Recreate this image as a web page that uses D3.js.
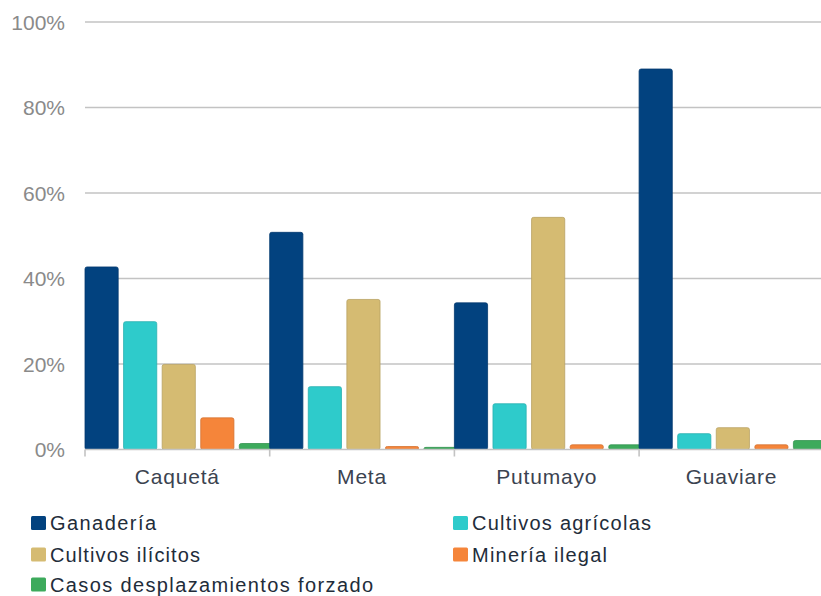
<!DOCTYPE html>
<html>
<head>
<meta charset="utf-8">
<script src="https://cdn.jsdelivr.net/npm/d3@7"></script>
<style>
  html, body { margin: 0; padding: 0; background: #ffffff; }
  svg { display: block; }
  text { font-family: "Liberation Sans", Arial, sans-serif; }
</style>
</head>
<body>
<svg id="chart" width="821" height="596"></svg>
<script>
const categories = ["Caquetá", "Meta", "Putumayo", "Guaviare"];
const seriesNames = ["Ganadería", "Cultivos agrícolas", "Cultivos ilícitos", "Minería ilegal", "Casos desplazamientos forzado"];
const seriesColors = ["#02427f", "#2ecbcb", "#d5bb72", "#f5853a", "#3daa5c"];
const ganaderia = [0.427, 0.508, 0.343, 0.890];
const cultivosAgricolas = [0.299, 0.147, 0.107, 0.037];
const cultivosIlicitos = [0.199, 0.351, 0.543, 0.051];
const mineriaIlegal = [0.074, 0.007, 0.011, 0.011];
const desplazamiento = [0.014, 0.005, 0.011, 0.021];
const yTicks = [0, 0.2, 0.4, 0.6, 0.8, 1.0];

const seriesValues = [ganaderia, cultivosAgricolas, cultivosIlicitos, mineriaIlegal, desplazamiento];

const svg = d3.select("#chart");

const x0 = d3.scaleBand().domain(categories).range([85, 823.8]).padding(0);
const x1 = d3.scaleBand().domain(seriesNames).range([0, 187.5]).paddingInner(0.14).paddingOuter(0);
const y = d3.scaleLinear().domain([0, 1]).range([449.5, 22]);

// gridlines
svg.append("g").selectAll("line").data(yTicks.filter(d => d > 0)).join("line")
  .attr("x1", 85).attr("x2", 821)
  .attr("y1", d => y(d)).attr("y2", d => y(d))
  .attr("stroke", "#c3c3c3").attr("stroke-width", 1.6);

// y labels
svg.append("g").selectAll("text").data(yTicks).join("text")
  .attr("x", 65).attr("y", d => y(d))
  .attr("dy", "0.36em")
  .attr("text-anchor", "end")
  .attr("font-size", 21)
  .attr("fill", "#8a8a8a")
  .text(d3.format(".0%"));

// bars
const groups = svg.append("g").selectAll("g").data(categories).join("g")
  .attr("transform", c => `translate(${x0(c)},0)`);

groups.selectAll("rect")
  .data((c, ci) => seriesNames.map((s, si) => ({ s, si, v: seriesValues[si][ci] })))
  .join("rect")
  .attr("x", d => x1(d.s))
  .attr("width", x1.bandwidth())
  .attr("y", d => y(d.v))
  .attr("height", d => y(0) - y(d.v))
  .attr("rx", 2)
  .attr("fill", d => seriesColors[d.si])
  .attr("stroke", d => d3.color(seriesColors[d.si]).darker(0.4))
  .attr("stroke-width", 0.8);

// baseline axis
const xAxis = svg.append("g");
xAxis.append("line")
  .attr("x1", 85).attr("x2", 821)
  .attr("y1", y(0)).attr("y2", y(0))
  .attr("stroke", "#c3c3c3").attr("stroke-width", 1.6);
const tickPositions = categories.map(c => x0(c)).concat([x0.range()[1]]);
xAxis.selectAll("line.tick").data(tickPositions).join("line")
  .attr("class", "tick")
  .attr("x1", d => d).attr("x2", d => d)
  .attr("y1", y(0)).attr("y2", y(0) + 7)
  .attr("stroke", "#c3c3c3").attr("stroke-width", 1.6);

xAxis.selectAll("text").data(categories).join("text")
  .attr("x", c => x0(c) + x0.bandwidth() / 2)
  .attr("y", 484)
  .attr("text-anchor", "middle")
  .attr("font-size", 21)
  .attr("letter-spacing", 0.8)
  .attr("fill", "#3b4350")
  .text(c => c);

// legend
const legendPos = [
  { x: 31, y: 530, w: 106 },
  { x: 453, y: 530, w: 179 },
  { x: 31, y: 561.5, w: 150 },
  { x: 453, y: 561.5, w: 135 },
  { x: 31, y: 591.5, w: 323 }
];
const legend = svg.append("g").selectAll("g").data(seriesNames).join("g")
  .attr("transform", (d, i) => `translate(${legendPos[i].x},${legendPos[i].y})`);
legend.append("rect")
  .attr("x", 0).attr("y", -14)
  .attr("width", 15).attr("height", 14)
  .attr("rx", 1.5)
  .attr("fill", (d, i) => seriesColors[i]);
legend.append("text")
  .attr("x", 19).attr("y", 0)
  .attr("font-size", 20)
  .attr("fill", "#222c3a")
  .attr("textLength", (d, i) => legendPos[i].w)
  .attr("lengthAdjust", "spacing")
  .text(d => d);
</script>
</body>
</html>
